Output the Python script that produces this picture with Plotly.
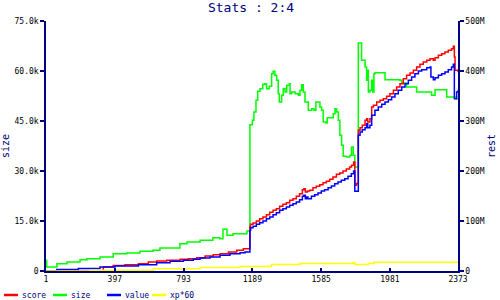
import plotly.graph_objects as go

# x positions (sample index)
size_x = [1, 5, 64, 122, 197, 237, 312, 388, 467, 542, 617, 657, 772, 813, 888, 962, 1003, 1020, 1043, 1078, 1158,
          1175, 1189, 1198, 1210, 1220, 1233, 1249, 1262, 1271, 1286, 1300, 1309, 1319, 1329, 1338, 1344, 1358, 1367,
          1377, 1387, 1402, 1406, 1415, 1435, 1454, 1463, 1473, 1482, 1492, 1511, 1531, 1544, 1555, 1578, 1588, 1597,
          1613, 1620, 1646, 1655, 1665, 1674, 1684, 1693, 1703, 1712, 1732, 1751, 1760, 1770, 1779, 1799, 1818, 1838,
          1847, 1853, 1857, 1866, 1876, 1882, 1889, 1895, 1953, 2039, 2049, 2077, 2135, 2221, 2241, 2308, 2365, 2373]
size_y = [3200, 1200, 2200, 2700, 3400, 3700, 4200, 5200, 5400, 5900, 6200, 6900, 8200, 8700, 9200, 10000, 9700, 12500,
          10700, 11200, 12000,
          43900, 45200, 47700, 51200, 53900, 54700, 56000, 56200, 54700, 55400, 59200, 59900, 58700, 57200, 53200, 50700,
          52700, 54700, 53700, 55700, 56200, 53200, 53700, 53200, 52700, 54200, 55900, 53700, 50700, 48200, 48700, 48200,
          50700, 49200, 48200, 44700, 44400, 46000, 46000, 47200, 48700, 47700, 45200, 40700, 37700, 34400, 34200, 34700,
          37200, 34700, 31200, 68400, 63200, 61200, 57200, 60200, 53700, 54200, 57200, 53700, 59200, 59500, 57400, 57200,
          56400, 55200, 53700, 52700, 54400, 52200, 51700, 51700]

score_x = [1, 331, 388, 456, 533, 590, 638, 696, 773, 821, 869, 917, 964, 1003, 1051, 1099, 1137,
           1175, 1179, 1193, 1212, 1231, 1250, 1270, 1289, 1308, 1327, 1346, 1365, 1385, 1404, 1423, 1442, 1461,
           1477, 1486, 1494, 1506, 1519, 1538, 1557, 1577, 1596, 1615, 1634, 1653, 1673, 1692, 1711, 1730, 1749,
           1760, 1772, 1779, 1789,
           1799, 1809, 1822, 1838, 1847, 1853, 1866, 1876, 1886, 1905, 1924, 1943, 1962, 1981, 2001, 2020, 2039,
           2058, 2077, 2097, 2116, 2135, 2154, 2173, 2193, 2212, 2231, 2241, 2260, 2279, 2298, 2317, 2336, 2346,
           2352, 2356, 2373]
score_y = [0, 8, 10.8, 12.7, 14.7, 18.1, 20.1, 21.4, 23.4, 24.7, 26.7, 30.1, 32.7, 34.7, 38.1, 41.4, 44.7,
           89.4, 93.4, 96.1, 100.1, 104.7, 108.1, 112.7, 117.4, 121.4, 124.7, 129.4, 133.4, 136.7, 141.4, 144.7, 149.4, 154.7,
           162.7, 164.7, 158.1, 160.1, 161.4, 166.7, 169.4, 172.7, 176.7, 179.4, 183.4, 188.1, 193.4, 196.1, 200.1, 204.1, 208.1,
           211.4, 218.1, 171.4, 174.8,
           281.4, 286.7, 291.4, 301.4, 304.7, 298.1, 304.7, 328.1, 331.4, 338.1, 341.4, 344.7, 349.4, 354.7, 361.4, 368.1, 374.7,
           384.7, 391.4, 396.1, 401.4, 408.1, 413.4, 418.1, 421.4, 424.7, 421.4, 426.7, 431.4, 434.7, 438.1, 441.4, 444.7, 449.4,
           428.1, 401.4, 398]

value_x = [1, 63, 187, 312, 398, 533, 638, 715, 792, 849, 888, 945, 1003, 1060, 1118, 1147,
           1175, 1179, 1193, 1212, 1231, 1250, 1270, 1289, 1308, 1327, 1346, 1365, 1385, 1404, 1423, 1442, 1461,
           1477, 1486, 1494, 1502, 1509, 1529, 1548, 1567, 1586, 1605, 1625, 1644, 1663, 1682, 1701, 1721, 1740,
           1759, 1772, 1779,
           1799, 1809, 1822, 1838, 1847, 1853, 1866, 1876, 1895, 1914, 1934, 1953, 1972, 1991, 2010, 2029, 2049,
           2068, 2087, 2106, 2125, 2145, 2164, 2193, 2212, 2217, 2231, 2241, 2260, 2279, 2298, 2317, 2336, 2346,
           2352, 2365, 2373]
value_y = [0, 2.8, 4.8, 8.1, 10.1, 12.7, 16.7, 19.4, 21.4, 23.4, 26.1, 28.1, 31.4, 34.7, 36.7, 38.1,
           81.4, 86.7, 89.4, 93.4, 96.7, 100.1, 104.7, 108.1, 112.7, 116.7, 121.4, 124.7, 128.1, 131.4, 134.7, 138.1, 142.7,
           149.4, 151.4, 144.7, 148.1, 144.7, 149.4, 152.7, 156.1, 160.1, 162.7, 166.7, 170.1, 174.7, 178.1, 181.4, 184.7, 189.4,
           194.7, 200.1, 159.4,
           271.4, 278.1, 282.7, 286.7, 294.7, 286.7, 291.4, 311.4, 321.4, 328.1, 333.4, 338.1, 342.7, 348.1, 354.7, 361.4, 368.1,
           374.7, 381.4, 388.1, 394.7, 400.1, 402.7, 406.7, 408.1, 388.1, 382.7, 386.7, 391.4, 394.7, 398.1, 402.7, 408.1, 413.4,
           344.7, 358.1, 361.4]

xp_x = [1, 254, 619, 888, 1118, 1300, 1463, 1770, 1779, 1857, 1889, 2373]
xp_y = [0, 1.4, 4.5, 6.8, 8.8, 12.8, 14.8, 16.8, 12.8, 14.8, 17.4, 17.4]

series_names = ["score", "size", "value", "xp*60"]
series_colors = ["#FF0000", "#00FF00", "#0000FF", "#FFFF00"]

x_ticks = [1, 397, 793, 1189, 1585, 1981, 2373]
left_ticks = [0, 15000, 30000, 45000, 60000, 75000]
left_labels = ["0", "15.0k", "30.0k", "45.0k", "60.0k", "75.0k"]
right_ticks = [0, 100e6, 200e6, 300e6, 400e6, 500e6]
right_labels = ["0", "100M", "200M", "300M", "400M", "500M"]

NAVY = "#000080"
FONT = "DejaVu Sans Mono"

fig = go.Figure()
lw = 1.5
fig.add_trace(go.Scatter(x=score_x, y=[v * 1e6 for v in score_y], name=series_names[0], mode="lines",
                         line=dict(color=series_colors[0], width=lw, shape="hv"), yaxis="y2"))
fig.add_trace(go.Scatter(x=size_x, y=size_y, name=series_names[1], mode="lines",
                         line=dict(color=series_colors[1], width=lw, shape="hv"), yaxis="y"))
fig.add_trace(go.Scatter(x=value_x, y=[v * 1e6 for v in value_y], name=series_names[2], mode="lines",
                         line=dict(color=series_colors[2], width=lw, shape="hv"), yaxis="y2"))
fig.add_trace(go.Scatter(x=xp_x, y=[v * 1e6 for v in xp_y], name=series_names[3], mode="lines",
                         line=dict(color=series_colors[3], width=lw, shape="hv"), yaxis="y2"))

# compact legend below the plot (key line + label), positions in paper pixels
plot_l, plot_w, plot_b, plot_h = 46, 412, 270.7, 250
legend_px_y = 294.7
key_starts = [4, 53, 107, 152]
key_len = 14
yp = (plot_b - legend_px_y) / plot_h
for name, color, k in zip(series_names, series_colors, key_starts):
    fig.add_shape(type="line", xref="paper", yref="paper",
                  x0=(k - plot_l) / plot_w, x1=(k + key_len - plot_l) / plot_w, y0=yp, y1=yp,
                  line=dict(color=color, width=2.5))
    fig.add_annotation(xref="paper", yref="paper", x=(k + key_len + 2 - plot_l) / plot_w, y=yp,
                       xanchor="left", yanchor="middle", text=name, showarrow=False,
                       font=dict(family=FONT, size=8, color=NAVY))

fig.update_layout(
    width=500, height=300,
    margin=dict(l=46, r=42, t=21, b=29, autoexpand=False),
    paper_bgcolor="white", plot_bgcolor="white",
    font=dict(family=FONT, size=8, color="black"),
    title=dict(text="Stats : 2:4", x=0.502, xanchor="center", y=0.975, yanchor="middle",
               font=dict(family=FONT, size=13, color=NAVY)),
    xaxis=dict(range=[1, 2373], tickvals=x_ticks, ticktext=[str(t) for t in x_ticks],
               showgrid=False, zeroline=False, showline=True, linecolor=NAVY, linewidth=1.5,
               ticks="inside", ticklen=3, tickcolor=NAVY, tickwidth=1.5, mirror=False,
               tickfont=dict(family=FONT, size=8, color="black")),
    yaxis=dict(range=[0, 75000], tickvals=left_ticks, ticktext=left_labels,
               showgrid=False, zeroline=False, showline=True, linecolor=NAVY, linewidth=1.5,
               ticks="outside", ticklen=4, tickcolor=NAVY, tickwidth=1.5,
               tickfont=dict(family=FONT, size=8, color="black"),
               title=dict(text="size", standoff=4, font=dict(family=FONT, size=10, color=NAVY))),
    yaxis2=dict(range=[0, 500e6], tickvals=right_ticks, ticktext=right_labels, overlaying="y", side="right",
                showgrid=False, zeroline=False, showline=True, linecolor=NAVY, linewidth=1.5,
                ticks="outside", ticklen=4, tickcolor=NAVY, tickwidth=1.5,
                tickfont=dict(family=FONT, size=8, color="black"),
                title=dict(text="rest", standoff=4, font=dict(family=FONT, size=10, color=NAVY))),
    showlegend=False,
)

fig.write_html("out.html")
